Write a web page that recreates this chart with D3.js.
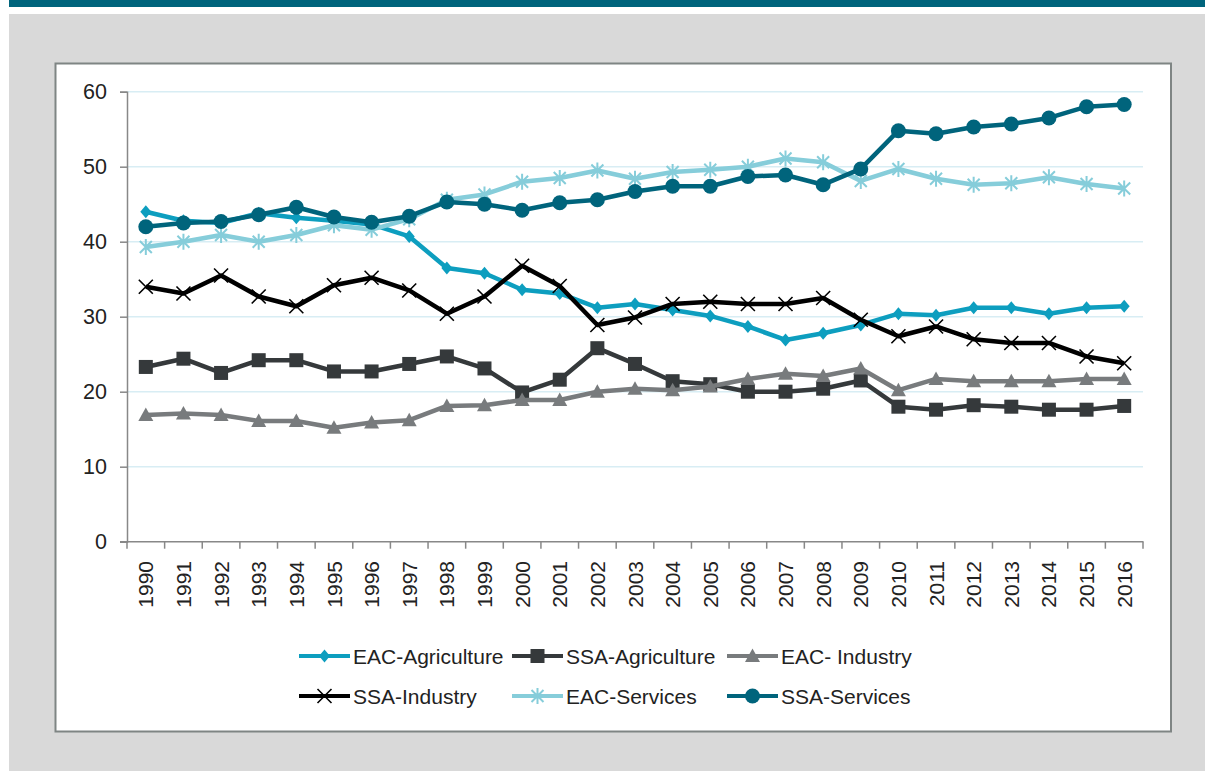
<!DOCTYPE html>
<html>
<head>
<meta charset="utf-8">
<script src="https://cdn.jsdelivr.net/npm/d3@7"></script>
<style>
  body { margin: 0; background: #fff; }
  svg { display: block; }
  text { font-family: "Liberation Sans", Arial, sans-serif; fill: #222; }
</style>
</head>
<body>
<svg id="chart" width="1205" height="771"></svg>
<script>
// categories
var years = ["1990","1991","1992","1993","1994","1995","1996","1997","1998","1999",
             "2000","2001","2002","2003","2004","2005","2006","2007","2008","2009",
             "2010","2011","2012","2013","2014","2015","2016"];

// series values (share, %)
var eacAgriculture = [44.0,42.8,42.5,43.8,43.2,42.8,42.3,40.7,36.5,35.8,
                      33.6,33.1,31.2,31.7,30.9,30.1,28.7,26.9,27.8,28.9,
                      30.4,30.2,31.2,31.2,30.4,31.2,31.4];
var ssaAgriculture = [23.3,24.4,22.5,24.2,24.2,22.7,22.7,23.7,24.7,23.1,
                      19.9,21.6,25.8,23.7,21.4,21.0,20.0,20.0,20.4,21.5,
                      18.0,17.6,18.2,18.0,17.6,17.6,18.1];
var eacIndustry    = [16.9,17.1,16.9,16.1,16.1,15.2,15.9,16.2,18.1,18.2,
                      18.9,18.9,20.0,20.4,20.2,20.7,21.7,22.4,22.1,23.1,
                      20.2,21.7,21.4,21.4,21.4,21.7,21.7];
var ssaIndustry    = [34.0,33.1,35.5,32.7,31.4,34.2,35.2,33.5,30.4,32.7,
                      36.8,34.1,28.9,29.9,31.7,32.0,31.7,31.7,32.5,29.6,
                      27.4,28.7,27.0,26.5,26.5,24.7,23.8];
var eacServices    = [39.3,40.0,40.9,40.0,40.9,42.2,41.6,43.0,45.6,46.3,
                      48.0,48.5,49.5,48.4,49.3,49.6,50.0,51.1,50.6,48.1,
                      49.7,48.4,47.6,47.8,48.6,47.7,47.1];
var ssaServices    = [42.0,42.5,42.7,43.6,44.6,43.3,42.6,43.4,45.3,45.0,
                      44.2,45.2,45.6,46.7,47.4,47.4,48.7,48.9,47.6,49.7,
                      54.8,54.4,55.3,55.7,56.5,58.0,58.3];

var yTicks = [0,10,20,30,40,50,60];

var series = [
  {name: "EAC-Agriculture", values: eacAgriculture, color: "#0d9ebf", marker: "diamond"},
  {name: "SSA-Agriculture", values: ssaAgriculture, color: "#35393b", marker: "square"},
  {name: "EAC- Industry",   values: eacIndustry,    color: "#787b7d", marker: "triangle"},
  {name: "SSA-Industry",    values: ssaIndustry,    color: "#000000", marker: "cross"},
  {name: "EAC-Services",    values: eacServices,    color: "#86cdda", marker: "star"},
  {name: "SSA-Services",    values: ssaServices,    color: "#00647c", marker: "circle"}
];

var svg = d3.select("#chart");

// page background: banner, gray panel, white chart box
svg.append("rect").attr("x", 9).attr("y", 0).attr("width", 1196).attr("height", 7).attr("fill", "#00647c");
svg.append("rect").attr("x", 9).attr("y", 14).attr("width", 1196).attr("height", 757).attr("fill", "#d9d9d9");
svg.append("rect").attr("x", 55.5).attr("y", 63.5).attr("width", 1115.5).attr("height", 668)
  .attr("fill", "#fff").attr("stroke", "#7f8584").attr("stroke-width", 2);

var x = d3.scaleBand().domain(years).range([127, 1143]);
var y = d3.scaleLinear().domain([0, 60]).range([541.7, 91.7]);
var cx = function(d, i) { return x(years[i]) + x.bandwidth() / 2; };

// gridlines
svg.append("g").selectAll("line")
  .data(yTicks.filter(function(t) { return t > 0; }))
  .join("line")
  .attr("x1", 127).attr("x2", 1143)
  .attr("y1", function(d) { return y(d); }).attr("y2", function(d) { return y(d); })
  .attr("stroke", "#d8edf4").attr("stroke-width", 1.5);

// y axis
var yAxis = svg.append("g").attr("transform", "translate(127,0)")
  .call(d3.axisLeft(y).tickValues(yTicks).tickSize(7).tickPadding(13));
yAxis.select(".domain").attr("stroke", "#888").attr("stroke-width", 1.5);
yAxis.selectAll(".tick line").attr("stroke", "#888").attr("stroke-width", 1.5);
yAxis.selectAll(".tick text").attr("font-size", 21.5).attr("fill", "#222")
  .style("font-family", "'Liberation Sans', Arial, sans-serif");

// x axis line + ticks at band edges
svg.append("line").attr("x1", 120).attr("x2", 1143.5)
  .attr("y1", y(0)).attr("y2", y(0)).attr("stroke", "#888").attr("stroke-width", 1.5);
var edges = years.map(function(d) { return x(d); }).concat([x.range()[1]]);
svg.append("g").selectAll("line").data(edges).join("line")
  .attr("x1", function(d) { return d; }).attr("x2", function(d) { return d; })
  .attr("y1", y(0)).attr("y2", y(0) + 7)
  .attr("stroke", "#888").attr("stroke-width", 1.5);

svg.append("g").selectAll("text").data(years).join("text")
  .attr("transform", function(d) {
    return "translate(" + (x(d) + x.bandwidth() / 2) + "," + 561 + ") rotate(-90)";
  })
  .attr("text-anchor", "end").attr("dy", "0.36em")
  .attr("font-size", 21)
  .text(function(d) { return d; });

// marker drawing
function drawMarker(sel, type, color) {
  if (type === "circle") {
    sel.append("circle").attr("r", 7.5).attr("fill", color);
  } else if (type === "square") {
    sel.append("rect").attr("x", -7).attr("y", -7).attr("width", 14).attr("height", 14).attr("fill", color);
  } else if (type === "triangle") {
    sel.append("path").attr("d", "M0,-7.5L7.5,6L-7.5,6Z").attr("fill", color);
  } else if (type === "diamond") {
    sel.append("path").attr("d", "M0,-6.5L5.5,0L0,6.5L-5.5,0Z").attr("fill", color);
  } else if (type === "cross") {
    sel.append("path").attr("d", "M-7,-7L7,7M-7,7L7,-7").attr("stroke", color).attr("stroke-width", 1.6).attr("fill", "none");
  } else if (type === "star") {
    sel.append("path").attr("d", "M-6,-6L6,6M-6,6L6,-6M0,-8L0,8").attr("stroke", color).attr("stroke-width", 2).attr("fill", "none");
  }
}

var line = d3.line()
  .x(function(d, i) { return cx(d, i); })
  .y(function(d) { return y(d); });

series.forEach(function(s) {
  var g = svg.append("g");
  g.append("path").datum(s.values)
    .attr("d", line)
    .attr("fill", "none")
    .attr("stroke", s.color)
    .attr("stroke-width", 4.5)
    .attr("stroke-linejoin", "round");
  g.selectAll("g.m").data(s.values).join("g").attr("class", "m")
    .attr("transform", function(d, i) { return "translate(" + cx(d, i) + "," + y(d) + ")"; })
    .each(function() { drawMarker(d3.select(this), s.marker, s.color); });
});

// legend
var legX = [299, 512, 727];
var legY = [656, 696];
series.forEach(function(s, i) {
  var lx = legX[i % 3], ly = legY[Math.floor(i / 3)];
  var g = svg.append("g").attr("transform", "translate(" + lx + "," + ly + ")");
  g.append("line").attr("x1", 0).attr("x2", 51).attr("y1", 0).attr("y2", 0)
    .attr("stroke", s.color).attr("stroke-width", 4);
  var m = g.append("g").attr("transform", "translate(25.5,0)");
  drawMarker(m, s.marker, s.color);
  g.append("text").attr("x", 54).attr("y", 0).attr("dy", "0.36em")
    .attr("font-size", 21).text(s.name);
});
</script>
</body>
</html>
